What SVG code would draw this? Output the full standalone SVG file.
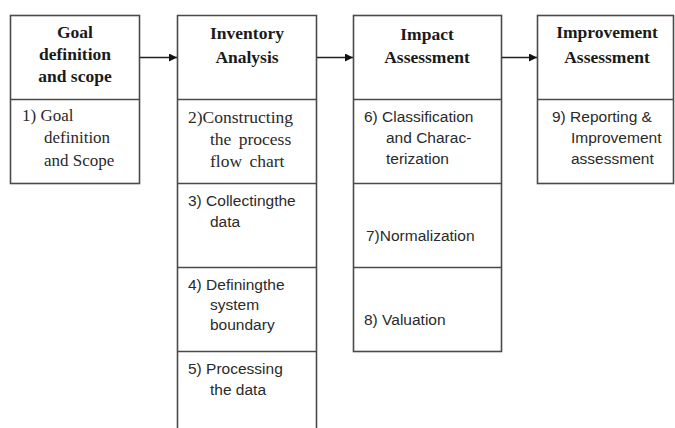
<svg xmlns="http://www.w3.org/2000/svg" width="675" height="428" viewBox="0 0 675 428">
<style>
.box{fill:#fff;stroke:#4a4a4a;stroke-width:1.6}
.ln{stroke:#4a4a4a;stroke-width:1.6;fill:none}
.hd{font-family:"Liberation Serif","Times New Roman",serif;font-weight:bold;font-size:17.5px;fill:#1a1a1a;text-anchor:middle}
.sf{font-family:"Liberation Serif","Times New Roman",serif;font-size:17px;fill:#2a2a2a}
.ss{font-family:"Liberation Sans",Arial,sans-serif;font-size:15.5px;fill:#2a2a2a}
.con{stroke:#222;stroke-width:1.6;fill:none;marker-end:url(#ah)}
</style>
<defs>
<marker id="ah" viewBox="0 0 10 10" refX="10" refY="5" markerWidth="10" markerHeight="8" markerUnits="userSpaceOnUse" orient="auto">
<path d="M0,0 L10,5 L0,10 z" fill="#111"/>
</marker>
</defs>
<rect width="675" height="428" fill="#fff"/>
<g id="goal">
<rect class="box" x="10.5" y="15.5" width="129" height="168"/>
<line class="ln" x1="10.5" y1="99.5" x2="139.5" y2="99.5"/>
<text class="hd" x="75" y="38">Goal</text>
<text class="hd" x="75" y="60">definition</text>
<text class="hd" x="75" y="82">and scope</text>
<text class="sf" x="22" y="121">1) Goal</text>
<text class="sf" x="44" y="143">definition</text>
<text class="sf" x="44" y="166">and Scope</text>
</g>
<g id="inventory">
<path class="ln" d="M177.5,428 V15.5 H316.5 V428"/>
<line class="ln" x1="177.5" y1="99.5" x2="316.5" y2="99.5"/>
<line class="ln" x1="177.5" y1="183.5" x2="316.5" y2="183.5"/>
<line class="ln" x1="177.5" y1="267.5" x2="316.5" y2="267.5"/>
<line class="ln" x1="177.5" y1="351.5" x2="316.5" y2="351.5"/>
<text class="hd" x="247" y="39">Inventory</text>
<text class="hd" x="247" y="63">Analysis</text>
<text class="sf" x="188" y="123" style="font-size:17.5px">2)Constructing</text>
<text class="sf" x="210" y="145" style="font-size:17.5px" word-spacing="3">the process</text>
<text class="sf" x="210" y="167" style="font-size:17.5px" word-spacing="3">flow chart</text>
<text class="ss" x="188" y="206">3) Collectingthe</text>
<text class="ss" x="210" y="227">data</text>
<text class="ss" x="188" y="290">4) Definingthe</text>
<text class="ss" x="210" y="310">system</text>
<text class="ss" x="210" y="330">boundary</text>
<text class="ss" x="188" y="374">5) Processing</text>
<text class="ss" x="210" y="395">the data</text>
</g>
<g id="impact">
<rect class="box" x="353.5" y="15.5" width="148" height="336"/>
<line class="ln" x1="353.5" y1="99.5" x2="501.5" y2="99.5"/>
<line class="ln" x1="353.5" y1="183.5" x2="501.5" y2="183.5"/>
<line class="ln" x1="353.5" y1="267.5" x2="501.5" y2="267.5"/>
<text class="hd" x="427" y="40">Impact</text>
<text class="hd" x="427" y="63">Assessment</text>
<text class="ss" x="364" y="122">6) Classification</text>
<text class="ss" x="386" y="143">and Charac-</text>
<text class="ss" x="386" y="164">terization</text>
<text class="ss" x="366" y="241">7)Normalization</text>
<text class="ss" x="364" y="325">8) Valuation</text>
</g>
<g id="improvement">
<rect class="box" x="537.5" y="15.5" width="136" height="168"/>
<line class="ln" x1="537.5" y1="99.5" x2="673.5" y2="99.5"/>
<text class="hd" x="607" y="38">Improvement</text>
<text class="hd" x="607" y="63">Assessment</text>
<text class="ss" x="552" y="122">9) Reporting &amp;</text>
<text class="ss" x="571" y="143">Improvement</text>
<text class="ss" x="571" y="164">assessment</text>
</g>
<g id="connectors">
<line class="con" x1="140" y1="57.5" x2="177" y2="57.5"/>
<line class="con" x1="317" y1="57.5" x2="353" y2="57.5"/>
<line class="con" x1="502" y1="57.5" x2="537" y2="57.5"/>
</g>
</svg>
